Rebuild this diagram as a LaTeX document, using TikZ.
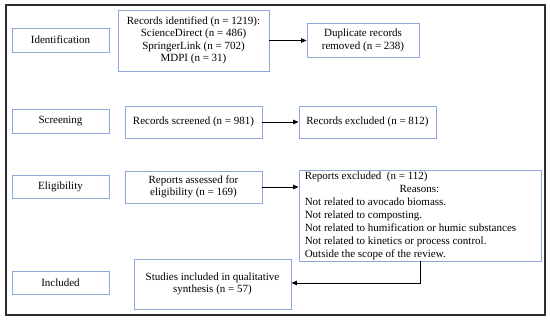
\documentclass[tikz,border=0pt]{standalone}
\usepackage{fontspec}
\setmainfont{Liberation Serif}
\usetikzlibrary{arrows.meta}
\definecolor{boxblue}{RGB}{143,168,218}
\definecolor{framegray}{RGB}{45,45,45}
\begin{document}
\begin{tikzpicture}[x=1pt,y=-1pt,
  bx/.style={draw=boxblue,line width=0.9pt,inner sep=0pt,align=center,
    font=\fontsize{11}{12.5}\selectfont},
  arr/.style={line width=0.9pt,-{Triangle[length=5.5pt,width=4.5pt]}}]
\useasboundingbox (0,0) rectangle (550,321);
\node[draw=framegray,line width=1.2pt,minimum width=539pt,minimum height=310pt,inner sep=0pt] (frame) at (275.5,160) {};
% stage labels
\node[bx,minimum width=97pt,minimum height=24pt] (ident) at (60.5,40) {Identification};
\node[bx,minimum width=97pt,minimum height=24pt] (scr) at (60.5,121) {Screening};
\node[bx,minimum width=97pt,minimum height=23pt] (elig) at (60.5,186.5) {Eligibility};
\node[bx,minimum width=97pt,minimum height=23pt] (incl) at (60.5,282.5) {Included};
% main boxes
\node[bx,minimum width=151pt,minimum height=61pt] (rec) at (193.5,40.5) {Records identified (n = 1219):\\ScienceDirect (n = 486)\\SpringerLink (n = 702)\\MDPI (n = 31)};
\node[bx,minimum width=112pt,minimum height=34pt] (dup) at (363,40.5) {Duplicate records\\removed (n = 238)};
\node[bx,minimum width=137pt,minimum height=32pt] (rs) at (193.5,122) {Records screened (n = 981)};
\node[bx,minimum width=137pt,minimum height=32pt] (rx) at (367.5,122) {Records excluded (n = 812)};
\node[bx,minimum width=137pt,minimum height=32pt] (ra) at (193.5,187) {Reports assessed for\\eligibility (n = 169)};
\node[bx,minimum width=242pt,minimum height=91pt] (exc) at (420,215.5) {};
\node[anchor=west,inner sep=0pt,font=\fontsize{11}{13}\selectfont] (exctext) at ([xshift=6pt]exc.west)
  {\begin{tabular}{@{}l@{}}
   Reports excluded~~(n = 112)\\
   \multicolumn{1}{@{}c@{}}{\hspace{18pt}Reasons:}\\
   Not related to avocado biomass.\\
   Not related to composting.\\
   Not related to humification or humic substances\\
   Not related to kinetics or process control.\\
   Outside the scope of the review.
   \end{tabular}};
\node[bx,minimum width=157pt,minimum height=50pt] (stu) at (212.5,284) {Studies included in qualitative\\synthesis (n = 57)};
% arrows
\draw[arr] (rec.east) -- (rec.east -| dup.west);
\draw[arr] (rs.east) -- (rx.west);
\draw[arr] (ra.east) -- (ra.east -| exc.west);
\draw[arr] (exc.south) |- ([yshift=1pt]stu.east);
\end{tikzpicture}
\end{document}
